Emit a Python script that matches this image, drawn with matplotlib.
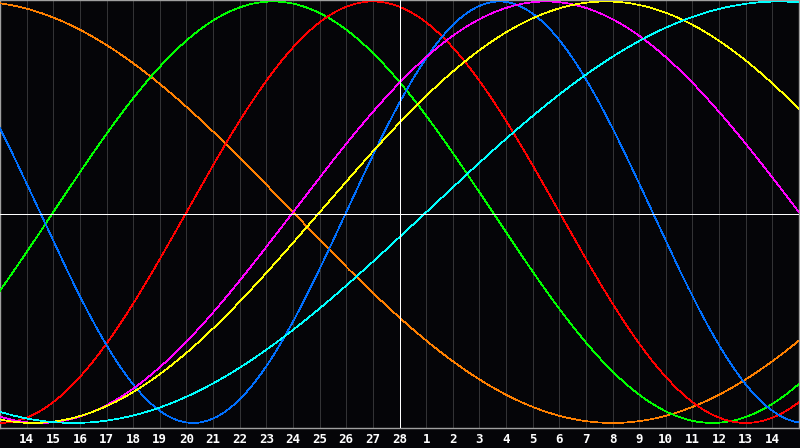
import numpy as np
import matplotlib
matplotlib.use("Agg")
import matplotlib.pyplot as plt

# Day labels along the x axis (one per grid column, index 1..29)
day_labels = [14, 15, 16, 17, 18, 19, 20, 21, 22, 23, 24, 25, 26, 27, 28,
              1, 2, 3, 4, 5, 6, 7, 8, 9, 10, 11, 12, 13, 14]

# Biorhythm cycles: period (days) and days into the cycle at the left edge
cycle_names = ["physical", "emotional", "intellectual", "intuitive",
               "aesthetic", "awareness", "spiritual"]
cycle_periods = [23, 28, 33, 38, 43, 48, 53]
cycle_offsets = [10, 21, 31, 27, 31, 13, 37]
cycle_colors = ["#0070ff", "#ff0000", "#00ff00", "#ff00ff",
                "#ffff00", "#ff8000", "#00ffff"]
draw_order = [5, 2, 1, 0, 3, 4, 6]

n_days = 30
today_index = 15

fig = plt.figure(figsize=(8.0, 4.48), dpi=100, facecolor="#050508")
ax = fig.add_axes([0.0, 20 / 448, 799 / 800, 428 / 448])
ax.set_facecolor("#050508")

x = np.linspace(0, n_days, 1601)
for i in draw_order:
    y = np.sin(2 * np.pi * (x + cycle_offsets[i]) / cycle_periods[i])
    ax.plot(x, y, color=cycle_colors[i], lw=0.5, zorder=3, antialiased=False)

for d in range(1, n_days):
    ax.axvline(d, color="#333335", lw=0.72, zorder=1, antialiased=False)
ax.axvline(today_index, color="#ffffff", lw=0.72, zorder=4, antialiased=False)
ax.axhline(-0.008, color="#ffffff", lw=0.72, zorder=4, antialiased=False)

ax.set_xlim(0, n_days)
ax.set_ylim(-1.024, 1.007)

for s in ax.spines.values():
    s.set_color("#a0a0a0")
    s.set_linewidth(1.0)

ax.set_xticks(range(1, n_days))
ax.set_xticklabels([str(v) for v in day_labels])
ax.tick_params(axis="x", length=0, pad=3.5, colors="#ffffff", labelsize=9)
for t in ax.get_xticklabels():
    t.set_fontfamily("DejaVu Sans Mono")
    t.set_fontweight("bold")
ax.set_yticks([])

fig.savefig("out.png", dpi=100, facecolor=fig.get_facecolor())
